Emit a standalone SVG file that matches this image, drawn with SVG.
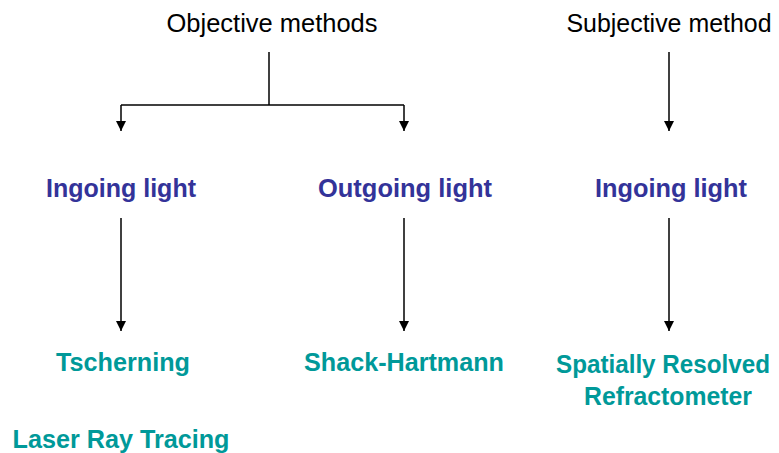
<svg xmlns="http://www.w3.org/2000/svg" width="779" height="453" viewBox="0 0 779 453">
<style>
.h{font-family:"Liberation Sans",Arial,sans-serif;font-size:25px;fill:#000;text-anchor:middle}
.b{font-family:"Liberation Sans",Arial,sans-serif;font-size:26px;font-weight:bold;fill:#333399;text-anchor:middle}
.t{font-family:"Liberation Sans",Arial,sans-serif;font-size:26px;font-weight:bold;fill:#009999;text-anchor:middle}
.c{stroke:#000;stroke-width:1.5;fill:none}
</style>
<defs>
<marker id="ah" markerWidth="10" markerHeight="10" refX="10" refY="5" orient="auto" markerUnits="userSpaceOnUse">
<path d="M0,0 L10,5 L0,10 Z" fill="#000"/>
</marker>
</defs>
<rect width="779" height="453" fill="#fff"/>
<g id="objective"><text class="h" x="272" y="32" textLength="211" lengthAdjust="spacingAndGlyphs">Objective methods</text></g>
<g id="subjective"><text class="h" x="669" y="32" textLength="205" lengthAdjust="spacingAndGlyphs">Subjective method</text></g>
<g id="ingoing1"><text class="b" x="121" y="197" textLength="150" lengthAdjust="spacingAndGlyphs">Ingoing light</text></g>
<g id="outgoing"><text class="b" x="405" y="197" textLength="174" lengthAdjust="spacingAndGlyphs">Outgoing light</text></g>
<g id="ingoing2"><text class="b" x="671" y="197" textLength="152" lengthAdjust="spacingAndGlyphs">Ingoing light</text></g>
<g id="tscherning"><text class="t" x="123" y="371" textLength="134" lengthAdjust="spacingAndGlyphs">Tscherning</text></g>
<g id="shack"><text class="t" x="404" y="371" textLength="200" lengthAdjust="spacingAndGlyphs">Shack-Hartmann</text></g>
<g id="srr"><text class="t" x="663" y="373" style="font-size:25px" textLength="214" lengthAdjust="spacingAndGlyphs">Spatially Resolved</text><text class="t" x="668" y="405" textLength="168" lengthAdjust="spacingAndGlyphs">Refractometer</text></g>
<g id="lrt"><text class="t" x="121" y="448" textLength="217" lengthAdjust="spacingAndGlyphs">Laser Ray Tracing</text></g>
<g id="connectors">
<path class="c" d="M269,52 V105"/>
<path class="c" d="M121,105 H404"/>
<path class="c" d="M121,105 V131" marker-end="url(#ah)"/>
<path class="c" d="M404,105 V131" marker-end="url(#ah)"/>
<path class="c" d="M669,52 V131" marker-end="url(#ah)"/>
<path class="c" d="M121,218 V331" marker-end="url(#ah)"/>
<path class="c" d="M404,218 V331" marker-end="url(#ah)"/>
<path class="c" d="M669,218 V331" marker-end="url(#ah)"/>
</g>
</svg>
